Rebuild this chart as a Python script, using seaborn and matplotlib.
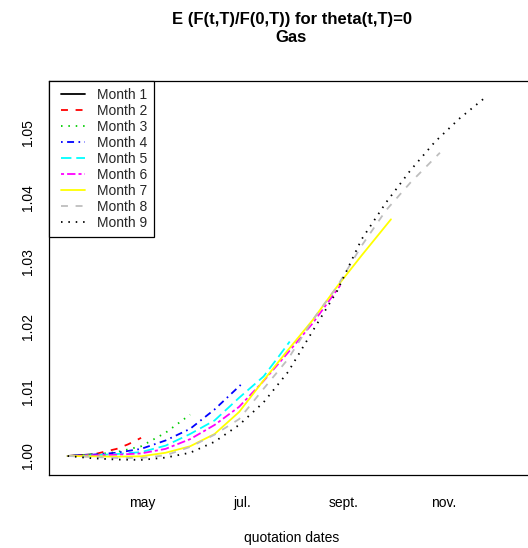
import matplotlib
matplotlib.use("Agg")
import matplotlib.pyplot as plt
from matplotlib.legend_handler import HandlerLine2D
import numpy as np
import pandas as pd
import seaborn as sns

# ---- data ----
months = ["Month 1", "Month 2", "Month 3", "Month 4", "Month 5",
          "Month 6", "Month 7", "Month 8", "Month 9"]

m1_days = [75, 90]
m1_vals = [1.0000, 1.00025]
m2_days = [75, 90, 105, 112, 120]
m2_vals = [1.0000, 1.0002, 1.0011, 1.0018, 1.0028]
m3_days = [75, 90, 105, 120, 135, 150]
m3_vals = [1.0000, 1.0002, 1.0006, 1.0015, 1.0036, 1.0064]
m4_days = [75, 90, 105, 120, 135, 150, 165, 181]
m4_vals = [1.0000, 1.0002, 1.0005, 1.0011, 1.0024, 1.0042, 1.0072, 1.0110]
m5_days = [75, 90, 105, 120, 135, 150, 165, 180, 195, 204, 211]
m5_vals = [1.0000, 1.0001, 1.0003, 1.0006, 1.0016, 1.0034, 1.0055, 1.0090, 1.0123, 1.0153, 1.0177]
m6_days = [75, 90, 105, 120, 135, 150, 165, 180, 195, 210, 225, 242]
m6_vals = [1.0000, 1.0001, 1.0002, 1.0004, 1.0011, 1.0026, 1.0048, 1.0076, 1.0116, 1.0160, 1.0205, 1.0264]
m7_days = [75, 90, 105, 120, 135, 150, 165, 180, 195, 210, 225, 240, 255, 273]
m7_vals = [1.0000, 0.99995, 0.9999, 0.99995, 1.0005, 1.0015, 1.0034, 1.0068, 1.0117, 1.0164, 1.0210, 1.0262, 1.0310, 1.0366]
m8_days = [75, 90, 105, 120, 135, 150, 165, 180, 195, 210, 225, 240, 255, 270, 285, 303]
m8_vals = [1.0000, 0.99985, 0.9997, 0.9997, 1.0001, 1.0014, 1.0033, 1.0057, 1.0104, 1.0150, 1.0210, 1.0262, 1.0325, 1.0380, 1.0423, 1.0469]
m9_days = [75, 90, 105, 120, 135, 150, 165, 180, 195, 210, 225, 240, 255, 270, 285, 300, 315, 331]
m9_vals = [1.0000, 0.99965, 0.99945, 0.9994, 0.99975, 1.0005, 1.0022, 1.0048, 1.0083, 1.0130, 1.0193, 1.0255, 1.0335, 1.0392, 1.0442, 1.0486, 1.0522, 1.0555]

all_days = [m1_days, m2_days, m3_days, m4_days, m5_days, m6_days, m7_days, m8_days, m9_days]
all_vals = [m1_vals, m2_vals, m3_vals, m4_vals, m5_vals, m6_vals, m7_vals, m8_vals, m9_vals]

xtick_pos = [121, 182, 244, 305]
xtick_labels = ["may", "jul.", "sept.", "nov."]
ytick_pos = [1.00, 1.01, 1.02, 1.03, 1.04, 1.05]
ytick_labels = ["1.00", "1.01", "1.02", "1.03", "1.04", "1.05"]

# ---- styles ----
colors = ["#000000", "#FF0000", "#00CD00", "#0000FF", "#00FFFF",
          "#FF00FF", "#FFFF00", "#BEBEBE", "#000000"]
dash_solid = ""
dash_dashed = (5, 5.5)
dash_dotted = (1.1, 4.2)
dash_dotdash = (1.2, 3.2, 5, 3.2)
dash_long = (7.5, 3.5)
dash_two = (2.2, 2.2, 6, 2.2)
dash_list = [dash_solid, dash_dashed, dash_dotted, dash_dotdash, dash_long,
             dash_two, dash_solid, dash_dashed, dash_dotted]

rows = []
for name, d, v in zip(months, all_days, all_vals):
    for xi, yi in zip(d, v):
        rows.append((name, xi, yi))
df = pd.DataFrame(rows, columns=["month", "day", "value"])

sns.set_theme(style="white")
plt.rcParams["font.family"] = ["Liberation Sans", "DejaVu Sans"]
plt.rcParams["lines.scale_dashes"] = False

W, H = 528, 548
fig = plt.figure(figsize=(W / 100, H / 100), dpi=100)
fig.patch.set_facecolor("white")
ax_l, ax_r, ax_t, ax_b = 49, 534, 80.7, 475
ax = fig.add_axes([ax_l / W, 1 - ax_b / H, (ax_r - ax_l) / W, (ax_b - ax_t) / H])
ax.set_facecolor("white")

sns.lineplot(data=df, x="day", y="value", hue="month", style="month",
             hue_order=months, style_order=months,
             palette=dict(zip(months, colors)),
             dashes=dict(zip(months, dash_list)),
             estimator=None, sort=False, legend=False,
             linewidth=1.3, ax=ax)

ax.set_xlim(63.6, 360.6)
ax.set_ylim(0.99706, 1.05804)

ax.set_xticks(xtick_pos)
ax.set_xticklabels(xtick_labels)
ax.set_yticks(ytick_pos)
ax.set_yticklabels(ytick_labels, rotation=90, va="center")
ax.tick_params(axis="both", direction="out", length=5, width=0.8,
               color="black", labelsize=10, labelcolor="black")
ax.tick_params(axis="x", pad=10)
ax.tick_params(axis="y", pad=5)

for sp in ax.spines.values():
    sp.set_visible(True)
    sp.set_color("black")
    sp.set_linewidth(0.9)

ax.set_ylabel("")
ax.set_xlabel("quotation dates", fontsize=10, color="black")
ax.xaxis.set_label_coords(0.5, -(538 - ax_b) / (ax_b - ax_t))
ax.xaxis.label.set_va("center")

fig.text((ax_l + ax_r) / 2 / W, 1 - 28.5 / H,
         "E (F(t,T)/F(0,T)) for theta(t,T)=0\nGas",
         ha="center", va="center", fontsize=12, fontweight="bold",
         linespacing=1.3, color="black")


class LeftInsetHandler(HandlerLine2D):
    """Legend line sample that starts a little to the right of the handle box."""
    def __init__(self, inset, **kw):
        super().__init__(**kw)
        self.inset = inset

    def create_artists(self, legend, orig_handle, xdescent, ydescent,
                       width, height, fontsize, trans):
        return super().create_artists(legend, orig_handle,
                                      xdescent - self.inset, ydescent,
                                      width - self.inset, height,
                                      fontsize, trans)


handles = ax.get_lines()[:len(months)]
inset_pt = 3.5
leg = ax.legend(handles, months, loc="upper left", bbox_to_anchor=(0, 1),
                borderaxespad=0, fancybox=False, frameon=True,
                edgecolor="black", framealpha=1, fontsize=10,
                handlelength=1.75 + inset_pt / 10, handletextpad=0.84,
                labelspacing=0.15, borderpad=0.5,
                handler_map={h: LeftInsetHandler(inset_pt) for h in handles})
leg.get_frame().set_linewidth(0.9)

fig.savefig("out.png", dpi=100, facecolor="white")
